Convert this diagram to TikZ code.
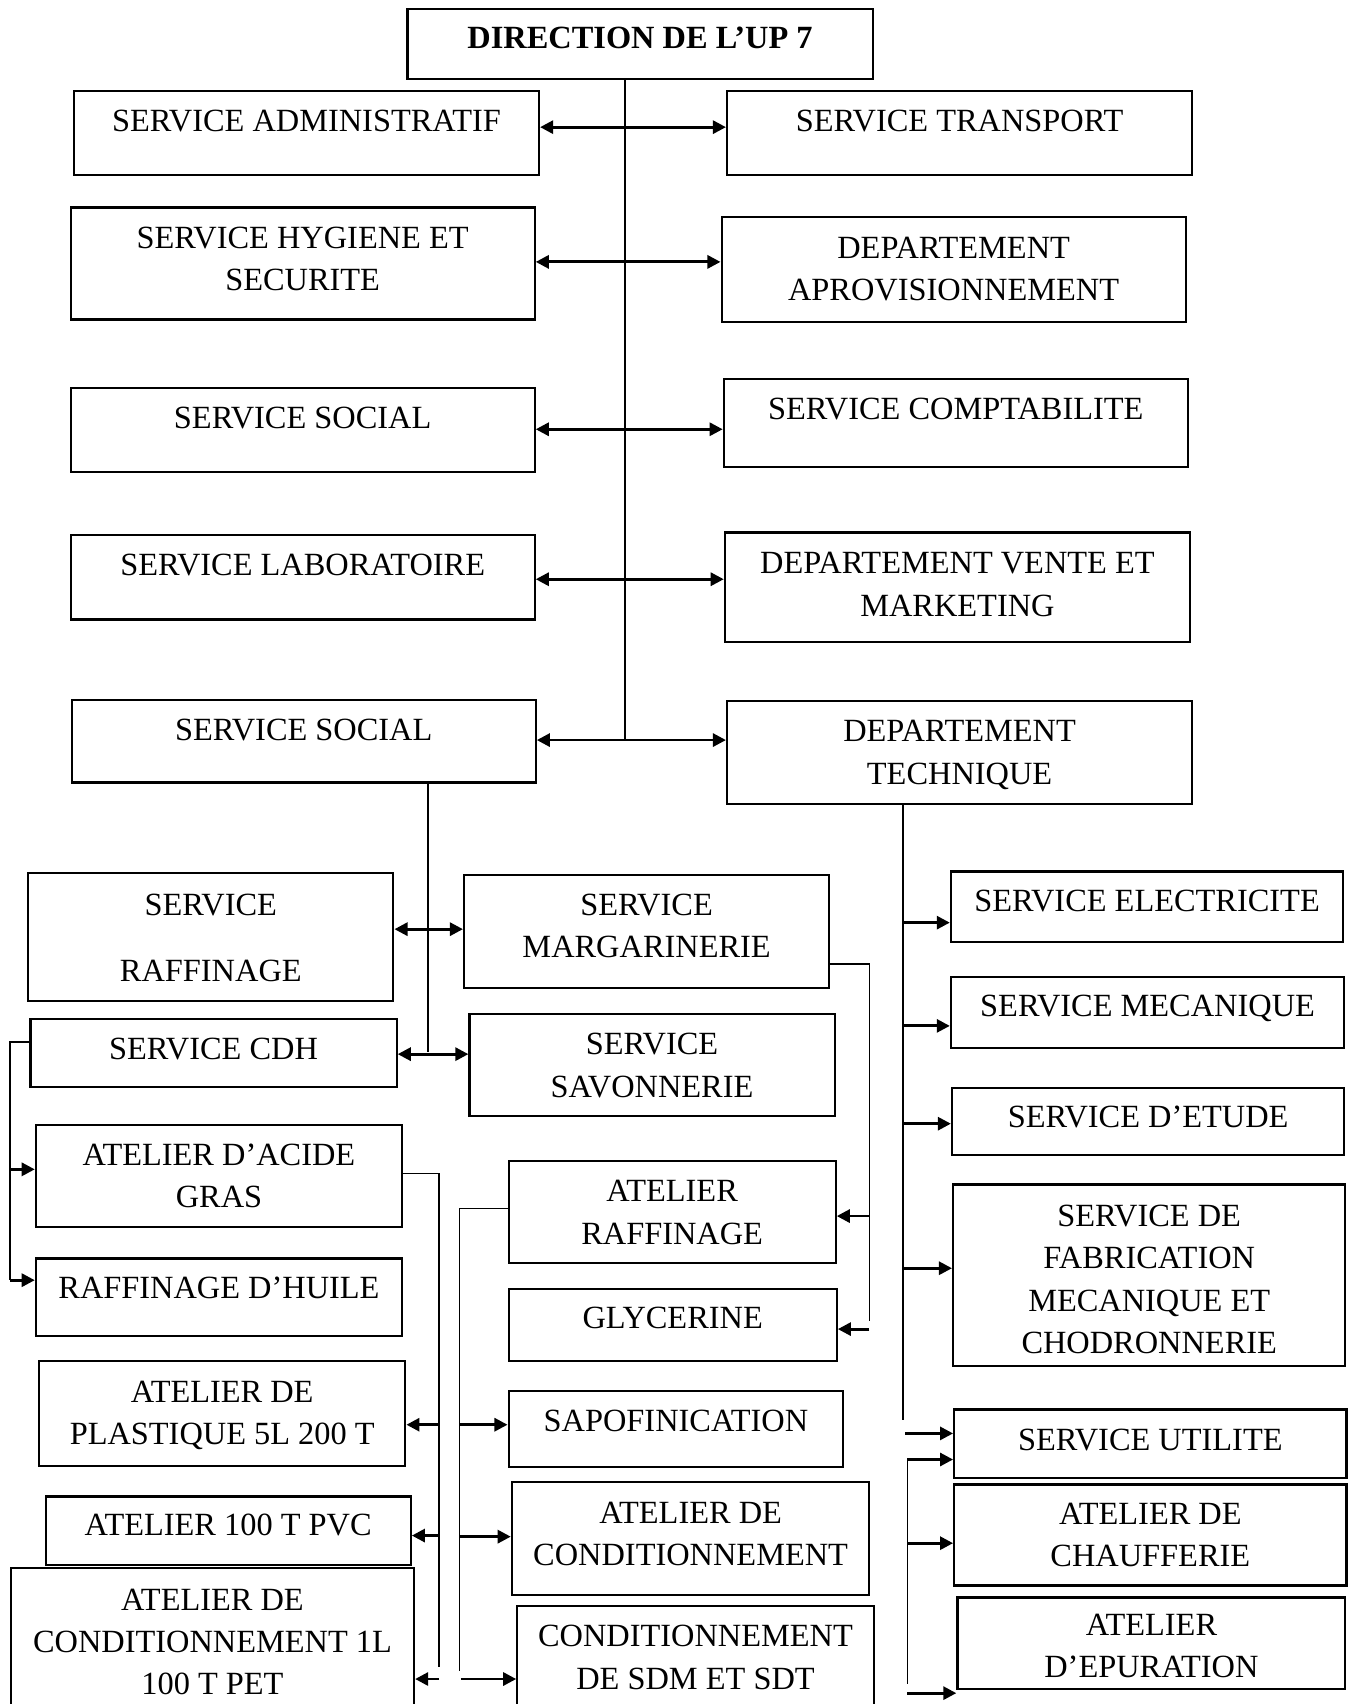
\documentclass[tikz,border=0pt]{standalone}
\usepackage{fontspec}
\setmainfont{Liberation Serif}
\usetikzlibrary{arrows.meta}

\tikzset{
  box/.style={draw, line width=2pt, rectangle, inner sep=0pt},
  txt/.style={align=center, inner sep=0pt,
    font=\fontsize{29.8}{39}\selectfont,
    execute at begin node=\strut, execute at end node=\strut},
  spine/.style={line width=1.4pt},
  link/.style={line width=1.4pt},
  arr/.style={line width=2.6pt, -{Triangle[length=12pt,width=12pt]}},
  dbl/.style={line width=2.6pt,
    {Triangle[length=12pt,width=12pt]}-{Triangle[length=12pt,width=12pt]}},
}

% #1 name, #2-#5 corners (x0,y0,x1,y1), #6 vertical centre of the text, #7 text
\newcommand\orgbox[7]{%
  \node[box, minimum width={#4-#2}, minimum height={#5-#3}] (#1)
    at ({(#2+#4)/2},{(#3+#5)/2}) {};
  \node[txt] (#1-t) at ({(#2+#4)/2},{#6+1.5}) {#7};
}

\begin{document}
\begin{tikzpicture}[x=1pt, y=-1pt]
\useasboundingbox (0,0) rectangle (1243,1568);

% upper level
\orgbox{dir}{375}{8}{803}{73}{35}{\bfseries DIRECTION DE L’UP 7}
\orgbox{adm}{68}{84}{496}{161}{112}{SERVICE ADMINISTRATIF}
\orgbox{tra}{669}{84}{1097}{161}{112}{SERVICE TRANSPORT}
\orgbox{hyg}{65}{191}{492}{294}{242.5}{SERVICE HYGIENE ET\\SECURITE}
\orgbox{apr}{664}{200}{1091}{296}{251.5}{DEPARTEMENT\\APROVISIONNEMENT}
\orgbox{soc}{65}{357}{492}{434}{385}{SERVICE SOCIAL}
\orgbox{cpt}{666}{349}{1093}{430}{377}{SERVICE COMPTABILITE}
\orgbox{lab}{65}{492}{492}{570}{520}{SERVICE LABORATOIRE}
\orgbox{ven}{667}{490}{1095}{591}{542}{DEPARTEMENT VENTE ET\\MARKETING}
\orgbox{socb}{66}{644}{493}{720}{672}{SERVICE SOCIAL}
\orgbox{tec}{669}{645}{1097}{740}{696.5}{DEPARTEMENT\\TECHNIQUE}

% production services and workshops
\orgbox{raf}{26}{803}{362}{921}{867.5}{SERVICE\\[22pt]RAFFINAGE}
\orgbox{mar}{427}{805}{763}{909}{856.5}{SERVICE\\MARGARINERIE}
\orgbox{cdh}{28}{938}{365}{1000}{966}{SERVICE CDH}
\orgbox{sav}{432}{933}{768}{1027}{984.5}{SERVICE\\SAVONNERIE}
\orgbox{aci}{33}{1035}{370}{1129}{1086.5}{ATELIER D’ACIDE\\GRAS}
\orgbox{hui}{33}{1158}{370}{1229}{1186}{RAFFINAGE D’HUILE}
\orgbox{atr}{468}{1068}{769}{1162}{1120}{ATELIER\\RAFFINAGE}
\orgbox{gly}{468}{1186}{770}{1252}{1213}{GLYCERINE}
\orgbox{pla}{36}{1252}{373}{1349}{1304.5}{ATELIER DE\\PLASTIQUE 5L 200 T}
\orgbox{sap}{468}{1280}{776}{1350}{1308}{SAPOFINICATION}
\orgbox{pvc}{42}{1377}{378}{1440}{1404}{ATELIER 100 T PVC}
\orgbox{acd}{471}{1364}{800}{1468}{1415.5}{ATELIER DE\\CONDITIONNEMENT}
\orgbox{pet}{10}{1443}{381}{1600}{1515}{ATELIER DE\\CONDITIONNEMENT 1L\\100 T PET}
\orgbox{sdm}{476}{1478}{804}{1600}{1529.5}{CONDITIONNEMENT\\DE SDM ET SDT}

% technical department
\orgbox{ele}{875}{802}{1236}{867}{829}{SERVICE ELECTRICITE}
\orgbox{mec}{875}{899}{1237}{964}{926}{SERVICE MECANIQUE}
\orgbox{etu}{876}{1001}{1237}{1063}{1028}{SERVICE D’ETUDE}
\orgbox{fab}{877}{1090}{1238}{1257}{1181.5}{SERVICE DE\\FABRICATION\\MECANIQUE ET\\CHODRONNERIE}
\orgbox{uti}{878}{1297}{1239}{1360}{1325}{SERVICE UTILITE}
\orgbox{cha}{878}{1366}{1239}{1459}{1416.5}{ATELIER DE\\CHAUFFERIE}
\orgbox{epu}{881}{1470}{1238}{1554}{1519}{ATELIER\\D’EPURATION}

% main spine from the direction
\coordinate (s1) at (575,681);
\draw[spine] (s1 |- dir.south) -- (s1);
\coordinate (r1) at (575,117);
\coordinate (r2) at (575,241);
\coordinate (r3) at (575,395);
\coordinate (r4) at (575,533);
\coordinate (r5) at (575,681);
\draw[dbl] (adm.east |- r1) -- (tra.west |- r1);
\draw[dbl] (hyg.east |- r2) -- (apr.west |- r2);
\draw[dbl] (soc.east |- r3) -- (cpt.west |- r3);
\draw[dbl] (lab.east |- r4) -- (ven.west |- r4);
\draw[dbl] (socb.east |- r5) -- (tec.west |- r5);

% spine below the social service
\coordinate (s2) at (394,968);
\draw[spine] (s2 |- socb.south) -- (s2);
\coordinate (r6) at (394,855);
\coordinate (r7) at (394,970);
\draw[dbl] (raf.east |- r6) -- (mar.west |- r6);
\draw[dbl] (cdh.east |- r7) -- (sav.west |- r7);

% CDH workshops
\coordinate (c0) at (9,959);
\coordinate (c1) at (9,1076);
\coordinate (c2) at (9,1178);
\draw[link] (cdh.west |- c0) -- (c0) -- (c2);
\draw[arr] (c1) -- (aci.west |- c1);
\draw[arr] (c2) -- (hui.west |- c2);

% fatty acid workshop branch
\coordinate (a0) at (404,1080);
\coordinate (a1) at (404,1311);
\coordinate (a2) at (404,1413);
\coordinate (a3) at (404,1545);
\coordinate (a4) at (404,1534);
\draw[link] (aci.east |- a0) -- (a0) -- (a4);
\draw[arr] (a1) -- (pla.east |- a1);
\draw[arr] (a2) -- (pvc.east |- a2);
\draw[arr] (a3) -- (pet.east |- a3);

% margarine branch
\coordinate (m0) at (800,887);
\coordinate (m1) at (800,1119);
\coordinate (m2) at (800,1223);
\coordinate (m3) at (800,1216);
\draw[link] (mar.east |- m0) -- (m0) -- (m3);
\draw[arr] (m1) -- (atr.east |- m1);
\draw[arr] (m2) -- (gly.east |- m2);

% refining workshop branch
\coordinate (t0) at (423,1112);
\coordinate (t1) at (423,1311);
\coordinate (t2) at (423,1414);
\coordinate (t3) at (424,1545);
\coordinate (t4) at (423,1538);
\draw[link] (atr.west |- t0) -- (t0) -- (t4);
\draw[arr] (t1) -- (sap.west |- t1);
\draw[arr] (t2) -- (acd.west |- t2);
\draw[arr] (t3) -- (sdm.west |- t3);

% technical department branch
\coordinate (s3) at (831,1307);
\draw[spine] (s3 |- tec.south) -- (s3);
\coordinate (e1) at (831,849);
\coordinate (e2) at (831,944);
\coordinate (e3) at (831,1034);
\coordinate (e4) at (831,1167);
\coordinate (e5) at (833,1319);
\draw[arr] (e1) -- (ele.west |- e1);
\draw[arr] (e2) -- (mec.west |- e2);
\draw[arr] (e3) -- (etu.west |- e3);
\draw[arr] (e4) -- (fab.west |- e4);
\draw[arr] (e5) -- (uti.west |- e5);

% utilities branch
\coordinate (u0) at (835,1343);
\coordinate (u1) at (835,1420);
\coordinate (u2) at (835,1558);
\coordinate (u3) at (835,1550);
\draw[link] (u0) -- (u3);
\draw[arr] (u0) -- (uti.west |- u0);
\draw[arr] (u1) -- (cha.west |- u1);
\draw[arr] (u2) -- (epu.south west |- u2);
\end{tikzpicture}
\end{document}
